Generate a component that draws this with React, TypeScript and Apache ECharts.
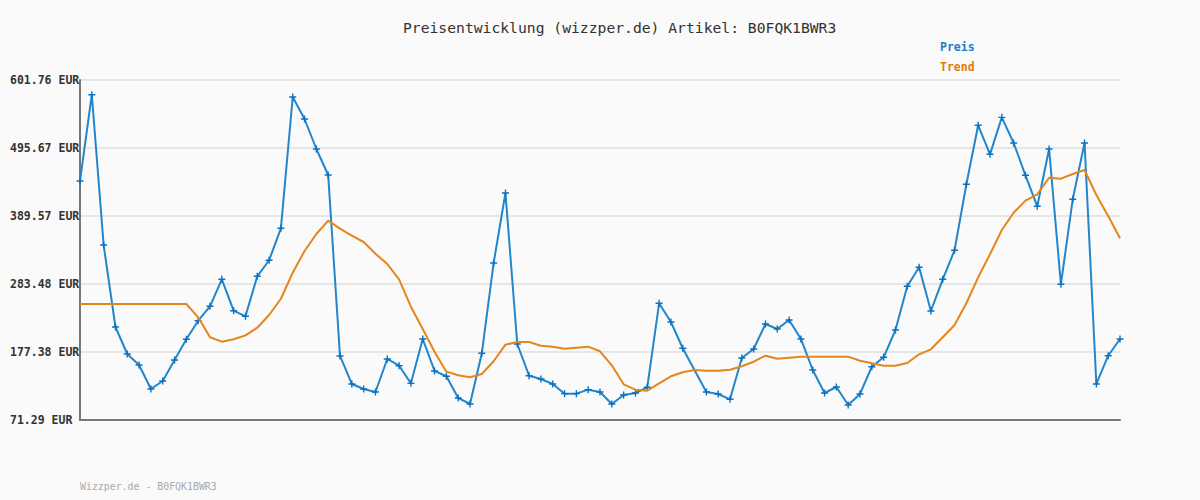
import React, { useEffect, useRef } from "react";
import * as echarts from "echarts";

const AXIS_MIN = 71.29;
const AXIS_MAX = 601.76;
const TICK_STEP = 106.094;

const preis: (number | null)[] = [
  444.2, 578.8, 344.3, 216.4, 174.3, 157.1, 119.7, 132.2, 164.9, 197.2,
  226.2, 248.7, 290.8, 241.8, 233.1, 295.5, 320.5, 370.4, 575.2, 540.9,
  494.1, 453.5, 171.2, 127.5, 119.7, 115.0, 166.5, 156.0, 128.5, 197.7,
  147.8, 139.5, 105.6, 96.3, 175.4, 316.3, 425.5, 189.9, 140.4, 135.3,
  127.5, 112.4, 112.4, 118.6, 115.0, 96.3, 110.3, 113.4, 122.3, 253.4,
  224.2, 183.2, null, 115.0, 111.9, 103.6, 168.0, 182.1, 221.1, 213.3,
  227.3, 197.7, 149.3, 113.4, 122.8, 94.7, 111.9, 154.4, 169.1, 211.7,
  279.9, 309.5, 241.4, 290.8, 336.1, 439.0, 531.1, 485.8, 543.5, 503.5,
  453.1, 404.7, 494.1, 283.0, 415.6, 503.5, 127.5, 171.6, 197.7,
];

const trend: number[] = [
  252.3, 252.3, 252.3, 252.3, 252.3, 252.3, 252.3, 252.3, 252.3, 252.3,
  231.5, 200.3, 193.5, 197.2, 203.4, 215.3, 235.1, 260.5, 301.1, 335.0,
  361.5, 382.3, 369.8, 358.9, 349.0, 330.8, 314.7, 290.8, 248.1, 213.3,
  177.9, 146.7, 141.1, 137.9, 143.1, 162.9, 188.8, 193.0, 193.0, 187.2,
  185.7, 182.5, 184.1, 185.7, 178.5, 156.6, 127.0, 118.6, 117.0, 128.5,
  139.5, 145.7, 149.3, 148.2, 148.2, 149.8, 155.1, 162.2, 171.6, 166.9,
  168.5, 170.1, 170.1, 170.1, 170.1, 170.1, 163.8, 159.8, 156.0, 156.0,
  160.2, 173.8, 181.6, 200.3, 219.5, 253.4, 293.9, 329.8, 367.7, 394.7,
  413.5, 423.4, 449.3, 447.8, 455.1, 461.4, 422.4, 389.6, 354.8,
];

const categories: string[] = preis.map((_, i) => String(i + 1));

const TITLE = "Preisentwicklung (wizzper.de) Artikel: B0FQK1BWR3";
const FOOTER = "Wizzper.de - B0FQK1BWR3";
const MONO = "'DejaVu Sans Mono', 'Liberation Mono', monospace";

const PLUS = "path://M2,0H3V2H5V3H3V5H2V3H0V2H2Z";

export default function App() {
  const ref = useRef<HTMLDivElement>(null);
  useEffect(() => {
    document.body.style.margin = "0";
    if (!ref.current) return;
    const chart = echarts.init(ref.current, undefined, { renderer: "svg" });
    const shift = (v: number | null) => (v === null ? null : +(v - AXIS_MIN).toFixed(3));
    chart.setOption({
      animation: false,
      backgroundColor: "#fafafa",
      grid: { left: 80, right: 80, top: 80, bottom: 80, containLabel: false },
      xAxis: {
        type: "category",
        data: categories,
        boundaryGap: false,
        axisLine: { show: true, lineStyle: { color: "#777777", width: 2 } },
        axisTick: { show: false },
        axisLabel: { show: false },
        splitLine: { show: false },
      },
      yAxis: {
        type: "value",
        min: 0,
        max: +(AXIS_MAX - AXIS_MIN).toFixed(3),
        interval: TICK_STEP,
        axisLine: { show: true, lineStyle: { color: "#777777", width: 2 } },
        axisTick: { show: false },
        splitLine: { show: true, lineStyle: { color: "#e6e6e6", width: 2 } },
        axisLabel: {
          align: "left",
          margin: 70,
          fontFamily: MONO,
          fontWeight: "bold",
          fontSize: 11.5,
          color: "#333333",
          formatter: (v: number) => (v + AXIS_MIN).toFixed(2) + " EUR",
        },
      },
      graphic: [
        {
          type: "text",
          left: 403,
          top: 20,
          style: { text: TITLE, fontFamily: MONO, fontSize: 14.7, fill: "#333333" },
        },
        {
          type: "text",
          left: 940,
          top: 41,
          style: { text: "Preis", fontFamily: MONO, fontWeight: "bold", fontSize: 11.5, fill: "#1a7dc6" },
        },
        {
          type: "text",
          left: 940,
          top: 61,
          style: { text: "Trend", fontFamily: MONO, fontWeight: "bold", fontSize: 11.5, fill: "#e07b0c" },
        },
        {
          type: "text",
          left: 80,
          top: 481,
          style: { text: FOOTER, fontFamily: MONO, fontSize: 9.9, fill: "#aaaaaa" },
        },
      ],
      series: [
        {
          name: "Preis",
          type: "line",
          data: preis.map(shift),
          connectNulls: true,
          symbol: PLUS,
          symbolSize: 7,
          showSymbol: true,
          lineStyle: { color: "#2286cc", width: 2 },
          itemStyle: { color: "#0a70bf" },
          z: 2,
        },
        {
          name: "Trend",
          type: "line",
          data: trend.map(shift),
          symbol: "none",
          lineStyle: { color: "#e4861c", width: 2 },
          z: 3,
        },
      ],
    });
    return () => chart.dispose();
  }, []);
  return <div ref={ref} style={{ width: 1200, height: 500 }} />;
}
